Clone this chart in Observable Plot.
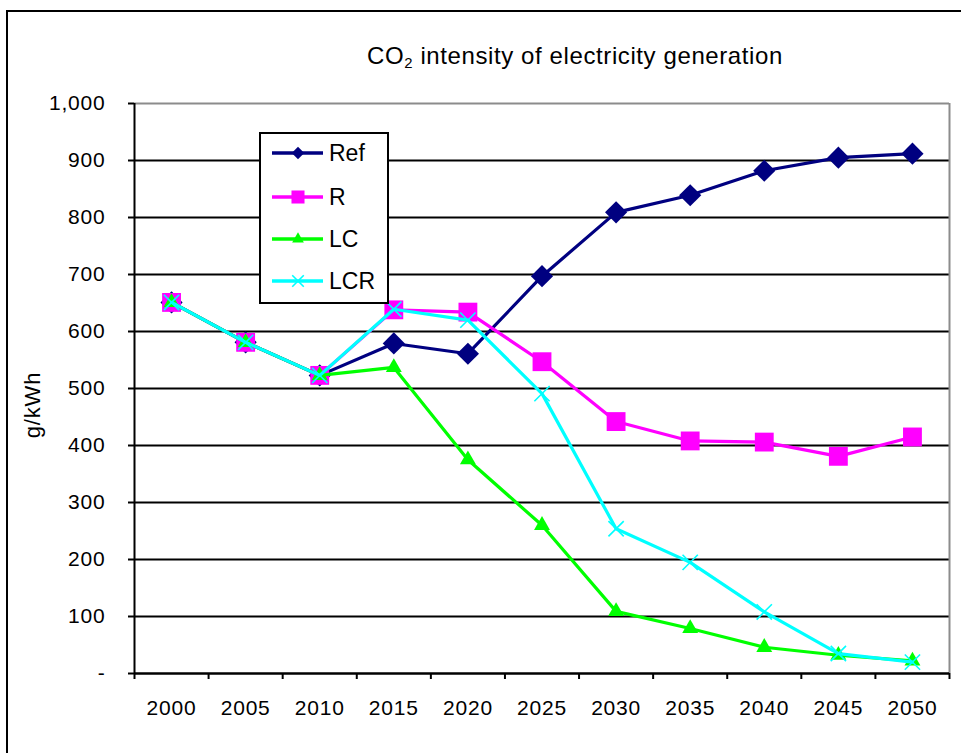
<!DOCTYPE html>
<html>
<head>
<meta charset="utf-8">
<script src="https://cdn.jsdelivr.net/npm/d3@7"></script>
<script src="https://cdn.jsdelivr.net/npm/@observablehq/plot@0.6"></script>
<style>
  body { margin: 0; background: #fff; font-family: "Liberation Sans", Arial, sans-serif; }
  #wrap { position: relative; width: 961px; height: 753px; overflow: hidden; background: #fff; }
  #frame { position: absolute; left: 6px; top: 10px; width: 1100px; height: 900px; border: 2px solid #000; box-sizing: border-box; }
  #title { position: absolute; left: 0; width: 1150px; top: 42px; text-align: center; font-size: 24px; line-height: 28px; letter-spacing: 0.6px; color: #000; }
  #title sub { font-size: 0.62em; vertical-align: -0.3em; line-height: 0; }
  #ytitle { position: absolute; left: 33px; top: 405px; transform: translate(-50%, -50%) rotate(-90deg); font-size: 22px; letter-spacing: 0.8px; white-space: nowrap; }
  #chart { position: absolute; left: 0; top: 0; }
  #legend { position: absolute; left: 259px; top: 132px; width: 130px; height: 172px; border: 2px solid #000; box-sizing: border-box; background: #fff; }
</style>
</head>
<body>
<div id="wrap">
  <div id="frame"></div>
  <div id="chart"></div>
  <div id="title">CO<sub>2</sub> intensity of electricity generation</div>
  <div id="ytitle">g/kWh</div>
  <div id="legend"></div>
</div>
<script>
// ---- data ----
const years = [2000, 2005, 2010, 2015, 2020, 2025, 2030, 2035, 2040, 2045, 2050];
const refValues = [651, 581, 523, 579, 561, 697, 809, 839, 882, 905, 912];
const rValues   = [651, 581, 523, 638, 634, 547, 442, 408, 406, 381, 415];
const lcValues  = [651, 581, 523, 537, 375, 260, 109, 79, 46, 32, 22];
const lcrValues = [651, 581, 523, 639, 620, 491, 254, 195, 108, 35, 20];
const seriesNames = ["Ref", "R", "LC", "LCR"];
const seriesColors = ["#000080", "#ff00ff", "#00ff00", "#00ffff"];
const yTicks = [0, 100, 200, 300, 400, 500, 600, 700, 800, 900, 1000];
const gridValues = [100, 200, 300, 400, 500, 600, 700, 800, 900];

const allValues = [refValues, rValues, lcValues, lcrValues];
const tables = allValues.map((vals, i) => years.map((y, j) => ({year: y, value: vals[j], series: seriesNames[i]})));
const half = 2.5;
const xEdges = [...years.map(y => y - half), years[years.length - 1] + half];

const symbols = ["diamond2", "square2", "triangle2", "times"];
const dotR = [10, 12, 7.6, 7];

const marks = [
  Plot.ruleY(gridValues, {stroke: "#000", strokeWidth: 2}),
  Plot.ruleY([1000], {stroke: "#8c8c8c", strokeWidth: 2}),
  Plot.ruleX([xEdges[xEdges.length - 1]], {stroke: "#8c8c8c", strokeWidth: 2}),
  Plot.axisY({ticks: yTicks, tickSize: 6, tickPadding: 23, tickFormat: d => d === 0 ? "-" : d3.format(",")(d), label: null, fontSize: 21, stroke: "#000", strokeWidth: 2}),
  Plot.axisX({ticks: xEdges, tickSize: 6, tickFormat: () => "", label: null, stroke: "#000", strokeWidth: 2}),
  Plot.axisX({ticks: years, tickSize: 0, tickPadding: 27, tickFormat: d => String(d), label: null, fontSize: 21}),
  Plot.ruleX([xEdges[0]], {stroke: "#000", strokeWidth: 2}),
  Plot.ruleY([0], {stroke: "#000", strokeWidth: 2.5})
];
tables.forEach((t, i) => {
  marks.push(Plot.line(t, {x: "year", y: "value", stroke: seriesColors[i], strokeWidth: 3.2}));
  if (symbols[i] === "times") {
    marks.push(Plot.dot(t, {x: "year", y: "value", symbol: symbols[i], r: dotR[i], stroke: seriesColors[i], strokeWidth: 1.6, fill: "none"}));
  } else {
    marks.push(Plot.dot(t, {x: "year", y: "value", symbol: symbols[i], r: dotR[i], fill: seriesColors[i], stroke: "none"}));
  }
});

const plot = Plot.plot({
  width: 961,
  height: 753,
  marginLeft: 134,
  marginRight: 12,
  marginTop: 103,
  marginBottom: 80,
  x: {type: "linear", domain: [xEdges[0], xEdges[xEdges.length - 1]], axis: null},
  y: {domain: [0, 1000], axis: null},
  style: {fontFamily: "'Liberation Sans', Arial, sans-serif", fontSize: "21px", color: "#000", background: "transparent", letterSpacing: "0.8px", overflow: "visible"},
  marks
});
document.getElementById("chart").appendChild(plot);

// ---- legend ----
const lw = 126, lh = 168;
const lsvg = d3.select("#legend").append("svg").attr("width", lw).attr("height", lh).style("display", "block");
const rowY = [19, 63, 105, 147];
const legR = [5.6, 8.3, 5.6, 5.3];
const d3sym = [d3.symbolDiamond2, d3.symbolSquare2, d3.symbolTriangle2, d3.symbolTimes];
seriesNames.forEach((name, i) => {
  const g = lsvg.append("g").attr("transform", `translate(0,${rowY[i]})`);
  g.append("line").attr("x1", 11).attr("x2", 62).attr("y1", 0).attr("y2", 0)
    .attr("stroke", seriesColors[i]).attr("stroke-width", 3.5);
  const path = d3.symbol(d3sym[i], Math.PI * legR[i] * legR[i])();
  const p = g.append("path").attr("d", path).attr("transform", "translate(37,0)");
  if (i === 3) p.attr("fill", "none").attr("stroke", seriesColors[i]).attr("stroke-width", 1.6);
  else p.attr("fill", seriesColors[i]);
  g.append("text").attr("x", 68).attr("y", 0).attr("dy", "0.36em")
    .attr("font-size", 23).attr("font-family", "'Liberation Sans', Arial, sans-serif")
    .text(name);
});
</script>
</body>
</html>
